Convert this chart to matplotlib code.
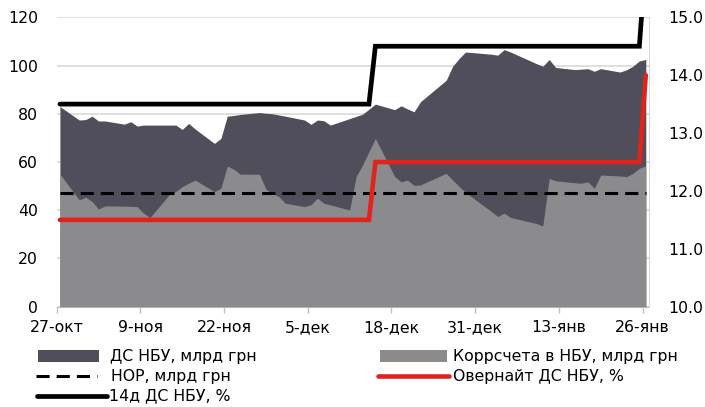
import matplotlib
matplotlib.use("Agg")
import matplotlib.pyplot as plt
import matplotlib.ticker as mticker
from matplotlib.lines import Line2D
from matplotlib.patches import Rectangle
import pandas as pd

plt.rcParams["font.family"] = ["DejaVu Sans"]
plt.rcParams["font.size"] = 11.3

# Trading days (weekends and 25 Dec, 1 Jan, 8 Jan excluded)
holidays = ["2017-12-25", "2018-01-01", "2018-01-08"]
dates = pd.bdate_range("2017-10-27", "2018-01-26").drop(pd.to_datetime(holidays))

# Deposit certificates of the NBU, bn UAH
ds_nbu = [83.0, 77.4, 77.6, 79.0, 77.0, 77.0, 75.7, 76.7, 74.9, 75.3,
          75.3, 75.3, 75.3, 73.5, 76.0, 73.7, 67.7, 69.8, 79.0, 79.3,
          79.7, 80.5, 80.2, 80.0, 79.5, 79.0, 77.4, 75.6, 77.4, 77.1,
          75.3, 78.0, 78.9, 79.8, 81.9, 84.0, 81.7, 83.3, 82.0, 80.8,
          85.0, 93.9, 99.7, 102.9, 105.6, 104.7, 104.3, 106.6, 105.6, 100.8,
          99.7, 102.5, 99.2, 98.3, 98.5, 98.7, 97.6, 98.7, 97.3, 98.2,
          99.7, 101.9, 102.5]

# Banks' correspondent accounts at the NBU, bn UAH
kors = [55.0, 44.3, 45.4, 43.6, 40.5, 41.8, 41.7, 41.6, 41.5, 38.8,
        37.0, 46.5, 47.8, 49.8, 51.2, 52.5, 47.7, 49.1, 58.3, 57.0,
        55.0, 54.9, 48.7, 47.0, 45.6, 42.9, 41.5, 42.3, 45.0, 42.9,
        42.2, 40.1, 53.9, 58.7, 64.3, 69.8, 53.9, 51.8, 52.5, 50.3,
        50.5, 55.3, 52.5, 49.9, 47.4, 39.5, 37.4, 38.8, 37.0, 34.5,
        33.5, 53.2, 52.2, 51.4, 51.2, 51.8, 49.1, 54.6, 54.2, 53.9,
        55.3, 57.4, 58.5]

# Required reserves level, bn UAH
nor_level = 47.3

# NBU rates, %: dates of change and new levels
rate_change_dates = ["2017-10-27", "2017-12-15", "2018-01-26"]
rate_14d = [13.5, 14.5, 16.0]
rate_overnight = [11.5, 12.5, 14.0]

tick_labels = ["27-окт", "9-ноя", "22-ноя", "5-дек", "18-дек", "31-дек", "13-янв", "26-янв"]

legend_labels = ["ДС НБУ, млрд грн", "НОР, млрд грн", "14д ДС НБУ, %",
                 "Коррсчета в НБУ, млрд грн", "Овернайт ДС НБУ, %"]

C_DS = "#4f4e5a"
C_KORS = "#8b8b8d"
C_RED = "#e0231c"
C_GRID = "#d9d9d9"

def step_series(levels):
    s = pd.Series(levels, index=pd.to_datetime(rate_change_dates))
    return s.reindex(dates, method="ffill").values

W, H = 705, 407
fig = plt.figure(figsize=(W / 100, H / 100), dpi=100)
ax = fig.add_axes([56.7 / W, (H - 306.7) / H, (649 - 56.7) / W, (306.7 - 17.3) / H])

# each day's value sits in the middle of its day slot
x = dates + pd.Timedelta(hours=12)

ax.fill_between(x, ds_nbu, color=C_DS, lw=0, zorder=2)
ax.fill_between(x, kors, color=C_KORS, lw=0, zorder=3)
ax.plot(x, [nor_level] * len(x), color="black", lw=2.2, dashes=(4.3, 2.3), zorder=4)

ax.set_xlim(pd.Timestamp("2017-10-27"), pd.Timestamp("2018-01-27"))
ax.set_ylim(0, 120)
ax.set_yticks(range(0, 121, 20))
ticks = pd.date_range("2017-10-27", periods=len(tick_labels), freq="13D")
ax.set_xticks(ticks)
ax.set_xticklabels(tick_labels)
ax.grid(axis="y", color=C_GRID, lw=1.2)
ax.set_axisbelow(True)
ax.tick_params(axis="x", length=4, color="#bfbfbf", width=1, pad=5.5)
ax.tick_params(axis="y", length=0, pad=13.5)
for side in ("left", "top", "right"):
    ax.spines[side].set_visible(False)
ax.spines["bottom"].set_color("#bfbfbf")

ax2 = ax.twinx()
ax2.plot(x, step_series(rate_overnight), color=C_RED, lw=3.3,
         solid_capstyle="round", solid_joinstyle="miter", zorder=5)
ax2.plot(x, step_series(rate_14d), color="black", lw=3.4,
         solid_capstyle="round", solid_joinstyle="miter", zorder=6)
ax2.set_ylim(10, 15)
ax2.set_yticks([10, 11, 12, 13, 14, 15])
ax2.yaxis.set_major_formatter(mticker.FormatStrFormatter("%.1f"))
ax2.tick_params(axis="y", length=0, pad=13.5)
for side in ("left", "top", "bottom"):
    ax2.spines[side].set_visible(False)
ax2.spines["right"].set_color(C_GRID)

# legend, laid out in figure pixels
def fx(px):
    return px / W

def fy(py):
    return 1 - py / H

tf = fig.transFigure
fig.add_artist(Rectangle((fx(38.4), fy(362)), fx(99.4) - fx(38.4), fy(350) - fy(362),
                         color=C_DS, lw=0, transform=tf))
fig.add_artist(Line2D([fx(36), fx(97)], [fy(376), fy(376)], color="black", lw=2.2,
                      dashes=(4.3, 2.3), transform=tf))
fig.add_artist(Line2D([fx(37), fx(107)], [fy(396), fy(396)], color="black", lw=3.4,
                      solid_capstyle="round", transform=tf))
fig.add_artist(Rectangle((fx(379.6), fy(362)), fx(446.5) - fx(379.6), fy(350) - fy(362),
                         color=C_KORS, lw=0, transform=tf))
fig.add_artist(Line2D([fx(378), fx(449)], [fy(375.5), fy(375.5)], color=C_RED, lw=3.3,
                      solid_capstyle="round", transform=tf))

fig.text(fx(110), fy(356), legend_labels[0], va="center", ha="left")
fig.text(fx(111), fy(376), legend_labels[1], va="center", ha="left")
fig.text(fx(109), fy(396), legend_labels[2], va="center", ha="left")
fig.text(fx(453), fy(356), legend_labels[3], va="center", ha="left")
fig.text(fx(453), fy(376), legend_labels[4], va="center", ha="left")

fig.savefig("out.png", dpi=100)
